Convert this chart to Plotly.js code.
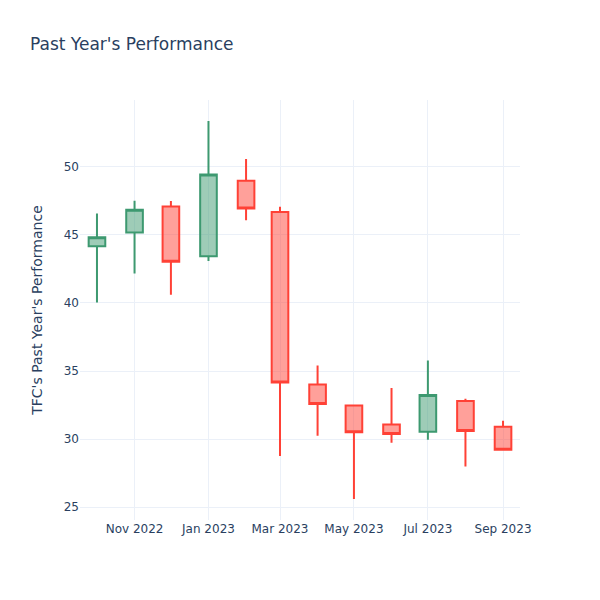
<!DOCTYPE html>
<html>
<head>
<meta charset="utf-8">
<script src="https://cdn.plot.ly/plotly-3.0.1.min.js"></script>
<style>html,body{margin:0;padding:0;background:#fff;}</style>
</head>
<body>
<div id="chart" style="width:600px;height:600px;"></div>
<script>
const dates = ["2022-10-01","2022-11-01","2022-12-01","2023-01-01","2023-02-01","2023-03-01","2023-04-01","2023-05-01","2023-06-01","2023-07-01","2023-08-01","2023-09-01"];
const openVals  = [44.17, 45.17, 47.09, 43.43, 48.97, 46.67, 34.00, 32.46, 31.08, 30.54, 32.80, 30.91];
const highVals  = [46.57, 47.50, 47.48, 53.36, 50.57, 47.06, 35.40, 32.50, 33.75, 35.78, 32.97, 31.35];
const lowVals   = [40.03, 42.16, 40.60, 43.07, 46.08, 28.75, 30.25, 25.60, 29.73, 29.95, 27.99, 29.20];
const closeVals = [44.83, 46.84, 43.02, 49.44, 46.94, 34.15, 32.57, 30.50, 30.37, 33.24, 30.59, 29.22];

const grid = "#EBF0F8";
const trace = {
  type: "candlestick",
  x: dates,
  open: openVals,
  high: highVals,
  low: lowVals,
  close: closeVals,
  increasing: {line: {color: "#3D9970"}},
  decreasing: {line: {color: "#FF4136"}},
  showlegend: false
};
const layout = {
  width: 600, height: 600,
  paper_bgcolor: "#fff", plot_bgcolor: "#fff",
  font: {family: "'DejaVu Sans', verdana, arial, sans-serif", color: "#2a3f5f", size: 12},
  title: {text: "Past Year's Performance", x: 0.05, font: {size: 17, color: "#2a3f5f"}},
  margin: {l: 80, r: 80, t: 100, b: 80},
  xaxis: {
    type: "date",
    rangeslider: {visible: false},
    gridcolor: grid, linecolor: grid, zeroline: false,
    showline: false
  },
  yaxis: {
    title: {text: "TFC's Past Year's Performance"},
    gridcolor: grid, linecolor: grid, zerolinecolor: grid,
    showline: false
  },
  showlegend: false
};
Plotly.newPlot("chart", [trace], layout, {displayModeBar: false});
</script>
</body>
</html>
